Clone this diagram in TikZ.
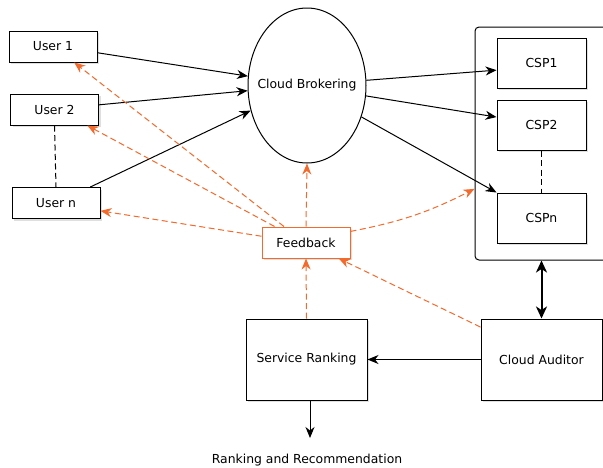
\documentclass[tikz,border=0pt]{standalone}
\usepackage{fontspec}
\setmainfont{DejaVu Sans}
\usetikzlibrary{arrows.meta,shapes.geometric,shadows}

\definecolor{fborange}{RGB}{242,106,44}

\begin{document}
\begin{tikzpicture}[x=1pt,y=-1pt,>={Stealth[length=11pt,width=9pt,inset=3.5pt]},
	font=\fontsize{12.4}{14}\selectfont,
	box/.style={draw,line width=1pt,fill=white,inner sep=0pt,
		drop shadow={shadow xshift=2pt,shadow yshift=-2pt,opacity=0.25}},
	flow/.style={->,line width=1pt},
	fbline/.style={->,color=fborange,line width=1pt,dash pattern=on 6pt off 3.5pt}]

\useasboundingbox (0,0) rectangle (603,467);

% users
\foreach \n/\x/\y in {1/53/46.5,2/54.5/109.5,n/56/203}{
	\node[box,minimum width=88pt,minimum height=31pt] (u\n) at (\x,\y) {User \n};
}

% broker
\node[draw,ellipse,line width=1pt,fill=white,inner sep=0pt,minimum width=118pt,minimum height=155pt,
	label={center:Cloud Brokering}] (cb) at (307,85.5) {};

% providers
\node[draw,rounded corners=4pt,line width=1pt,minimum width=150pt,minimum height=233pt] (grp) at (550,143.5) {};
\foreach \n/\y in {1/63,2/125,n/218}{
	\node[box,minimum width=89pt,minimum height=50pt] (csp\n) at (541.5,\y) {CSP\n};
}

\node[box,draw=fborange,minimum width=88pt,minimum height=31pt] (fb) at (306,242.5) {Feedback};
\node[box,minimum width=121pt,minimum height=81pt] (sr) at (306.5,359.5) {Service Ranking};
\node[box,minimum width=121pt,minimum height=81pt] (ca) at (541.5,359.5) {Cloud Auditor};

\node (rr) at (307,460) {Ranking and Recommendation};
\coordinate (rk) at (310,438);

% requests
\draw[flow] (u1.-8)--(cb.171);
\draw[flow] (u2.6)--(cb.185);
\draw[flow] (un.25)--(cb.204);
\draw[flow] (cb.5)--(csp1.189);
\draw[flow] (cb.-10)--(csp2.170);
\draw[flow] (cb.-30)--(cspn.north west);

\draw[line width=1pt,dash pattern=on 6pt off 3.5pt] (u2.south)--(un.north);
\draw[line width=1pt,dash pattern=on 6pt off 3.5pt] (csp2.south)--(cspn.north);

\draw[{Stealth[length=12pt,width=11pt,inset=3.5pt]}-{Stealth[length=12pt,width=11pt,inset=3.5pt]},line width=2pt] (ca.north)--(ca.north |- grp.south);
\draw[flow] (ca.west)--(sr.east);
\draw[flow] (sr.south -| rk)--(rk);

% feedback
\draw[fbline] (fb.144)--(u1.-37);
\draw[fbline] (fb.153)--(u2.-26);
\draw[fbline] (fb.172)--(un.-10);
\draw[fbline] (fb.north)--(cb.south);
\draw[fbline] (fb.14) to[bend right=8] (grp.211);
\draw[fbline] (sr.north)--(fb.south);
\draw[fbline] (ca.152)--(fb.-26);

\end{tikzpicture}
\end{document}
